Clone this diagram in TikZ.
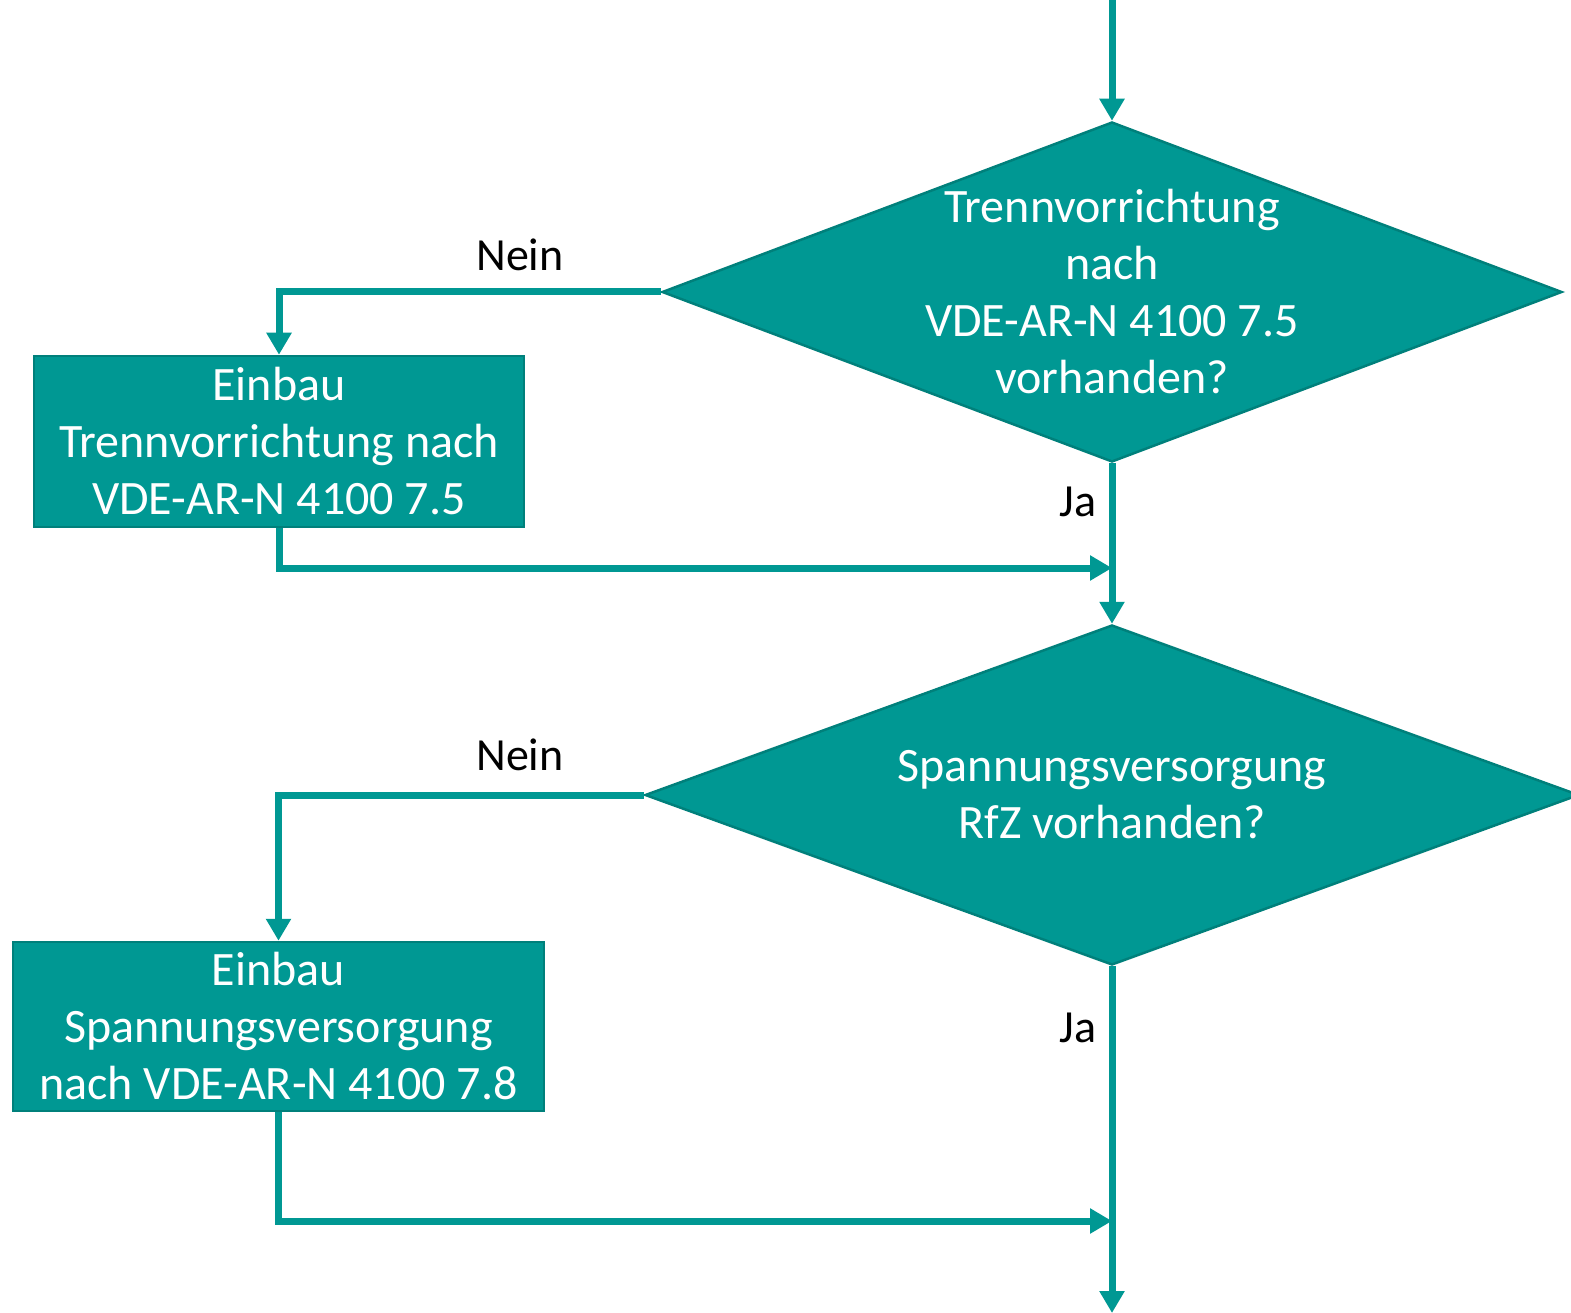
\documentclass[tikz,border=0pt]{standalone}
\usepackage{fontspec}
\setmainfont{Carlito}
\usepackage{xcolor}
\usetikzlibrary{arrows.meta,positioning,shapes.geometric}
\definecolor{petrol}{HTML}{009893}
\definecolor{petroldark}{HTML}{00807B}

\begin{document}
\begin{tikzpicture}[x=1pt,y=1pt,
  >={Triangle[width=24pt,length=22pt]},
  flow/.style={->,draw=petrol,line width=7pt},
  dec/.style={diamond,draw=petroldark,line width=2.5pt,fill=petrol,text=white,align=center,
    inner sep=-70pt,aspect=2.65,font=\fontsize{48}{57}\selectfont},
  act/.style={rectangle,draw=petroldark,line width=2.5pt,fill=petrol,text=white,align=center,
    inner sep=0pt,font=\fontsize{48}{57}\selectfont},
  lbl/.style={font=\fontsize{46}{52}\selectfont}]
\useasboundingbox[fill=white] (0,0) rectangle (1571,-1313);
\coordinate (in) at (1112,0);
\node[dec,minimum width=900pt,minimum height=340pt] (d1) at (1112,-292)
  {Trennvorrichtung\\nach\\VDE-AR-N 4100 7.5\\vorhanden?};
\node[act,minimum width=490pt,minimum height=171pt] (b1) at (279,-441.5)
  {Einbau\\Trennvorrichtung nach\\VDE-AR-N 4100 7.5};
\node[dec,minimum width=934pt,minimum height=340pt] (d2) at (1112,-795)
  {Spannungsversorgung\\RfZ vorhanden?};
\node[act,minimum width=531pt,minimum height=169pt] (b2) at (278.5,-1026.5)
  {Einbau\\Spannungsversorgung\\nach VDE-AR-N 4100 7.8};
\coordinate (j1) at (1112,-568);
\coordinate (j2) at (1112,-1221);
\coordinate (out) at (1112,-1313);
% labels
\node[lbl] (n1) at (520,-255) {Nein};
\node[lbl] (y1) at (1078,-502) {Ja};
\node[lbl] (n2) at (520,-755) {Nein};
\node[lbl] (y2) at (1078,-1028) {Ja};
% connectors
\draw[flow] (in) -- (d1.north);
\draw[flow] (d1.west) -| (b1.north);
\draw[flow] (d1.south) -- (d2.north);
\draw[flow] (b1.south) |- (j1);
\draw[flow] (d2.west) -| (b2.north);
\draw[flow] (d2.south) -- (out);
\draw[flow] (b2.south) |- (j2);
\end{tikzpicture}
\end{document}
